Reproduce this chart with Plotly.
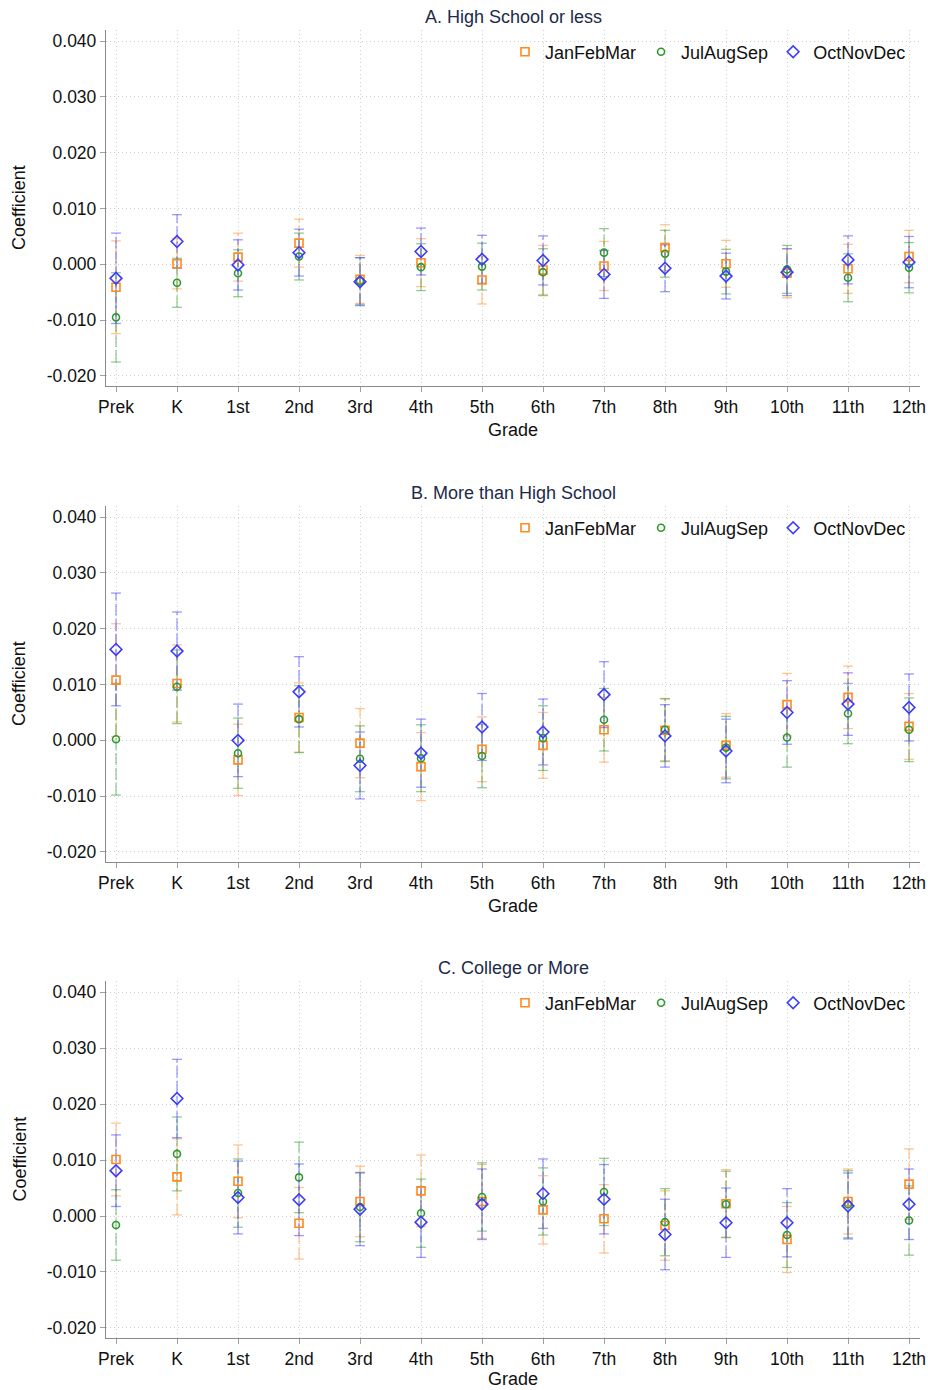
import plotly.graph_objects as go

W, H = 928, 1390

grades = ["Prek", "K", "1st", "2nd", "3rd", "4th", "5th", "6th", "7th", "8th", "9th", "10th", "11th", "12th"]
series_names = ["JanFebMar", "JulAugSep", "OctNovDec"]
panel_titles = ["A. High School or less", "B. More than High School", "C. College or More"]

# Panel A: High School or less
a_jan = [-0.0041, 0.0001, 0.0013, 0.0038, -0.0027, 0.0003, -0.0028, -0.0010, -0.0003, 0.0030, 0.0001, -0.0016, -0.0008, 0.0014]
a_jul = [-0.0095, -0.0033, -0.0016, 0.0014, -0.0030, -0.0005, -0.0004, -0.0014, 0.0021, 0.0019, -0.0013, -0.0009, -0.0024, -0.0006]
a_oct = [-0.0025, 0.0041, -0.0001, 0.0021, -0.0031, 0.0023, 0.0009, 0.0007, -0.0018, -0.0007, -0.0021, -0.0014, 0.0008, 0.0004]
a_jan_ci = [0.0083, 0.0045, 0.0043, 0.0043, 0.0043, 0.0043, 0.0043, 0.0044, 0.0044, 0.0041, 0.0042, 0.0044, 0.0044, 0.0047]
a_jul_ci = [0.0080, 0.0044, 0.0042, 0.0042, 0.0042, 0.0042, 0.0042, 0.0042, 0.0043, 0.0042, 0.0040, 0.0043, 0.0043, 0.0045]
a_oct_ci = [0.0081, 0.0048, 0.0045, 0.0042, 0.0043, 0.0042, 0.0043, 0.0044, 0.0043, 0.0042, 0.0041, 0.0042, 0.0043, 0.0046]

# Panel B: More than High School
b_jan = [0.0108, 0.0102, -0.0035, 0.0041, -0.0005, -0.0047, -0.0016, -0.0009, 0.0019, 0.0018, -0.0009, 0.0064, 0.0077, 0.0025]
b_jul = [0.0002, 0.0096, -0.0023, 0.0038, -0.0033, -0.0032, -0.0028, 0.0004, 0.0037, 0.0019, -0.0013, 0.0005, 0.0048, 0.0019]
b_oct = [0.0163, 0.0160, 0.0000, 0.0087, -0.0045, -0.0023, 0.0024, 0.0015, 0.0082, 0.0008, -0.0019, 0.0050, 0.0065, 0.0059]
b_jan_ci = [0.0101, 0.0069, 0.0064, 0.0062, 0.0062, 0.0061, 0.0058, 0.0059, 0.0058, 0.0056, 0.0057, 0.0056, 0.0056, 0.0059]
b_jul_ci = [0.0100, 0.0066, 0.0063, 0.0060, 0.0059, 0.0060, 0.0057, 0.0058, 0.0056, 0.0056, 0.0056, 0.0053, 0.0054, 0.0057]
b_oct_ci = [0.0101, 0.0070, 0.0065, 0.0063, 0.0060, 0.0061, 0.0060, 0.0059, 0.0059, 0.0056, 0.0057, 0.0057, 0.0056, 0.0060]

# Panel C: College or More
c_jan = [0.0101, 0.0070, 0.0062, -0.0013, 0.0026, 0.0045, 0.0026, 0.0011, -0.0005, -0.0017, 0.0022, -0.0042, 0.0026, 0.0057]
c_jul = [-0.0016, 0.0111, 0.0041, 0.0069, 0.0016, 0.0005, 0.0034, 0.0026, 0.0043, -0.0011, 0.0021, -0.0034, 0.0021, -0.0008]
c_oct = [0.0081, 0.0210, 0.0033, 0.0029, 0.0012, -0.0011, 0.0021, 0.0040, 0.0030, -0.0033, -0.0012, -0.0012, 0.0018, 0.0021]
c_jan_ci = [0.0065, 0.0068, 0.0065, 0.0064, 0.0063, 0.0064, 0.0066, 0.0061, 0.0061, 0.0062, 0.0061, 0.0059, 0.0058, 0.0063]
c_jul_ci = [0.0063, 0.0066, 0.0061, 0.0063, 0.0062, 0.0061, 0.0061, 0.0060, 0.0060, 0.0060, 0.0059, 0.0058, 0.0060, 0.0062]
c_oct_ci = [0.0064, 0.0070, 0.0065, 0.0064, 0.0065, 0.0063, 0.0063, 0.0062, 0.0062, 0.0063, 0.0062, 0.0061, 0.0059, 0.0063]

y_ticks = [-0.02, -0.01, 0.0, 0.01, 0.02, 0.03, 0.04]
y_ticktext = ["-0.020", "-0.010", "0.000", "0.010", "0.020", "0.030", "0.040"]

panels = [
    ([a_jan, a_jul, a_oct], [a_jan_ci, a_jul_ci, a_oct_ci]),
    ([b_jan, b_jul, b_oct], [b_jan_ci, b_jul_ci, b_oct_ci]),
    ([c_jan, c_jul, c_oct], [c_jan_ci, c_jul_ci, c_oct_ci]),
]

marker_cols = ["#ff8a1f", "#2e9a2e", "#3b3bff"]
ci_cols = ["rgba(255,150,60,0.55)", "rgba(60,160,60,0.55)", "rgba(70,70,255,0.55)"]
symbols = ["square-open", "circle-open", "diamond-open"]
sizes = [8, 7, 9]

# pixel layout
x_left, x_right = 106, 920
panel_px = [(30, 386), (506, 862), (981, 1338)]

FONT = "Liberation Sans, Arial, sans-serif"
fig = go.Figure()
xs = list(range(len(grades)))

for p, (vals, cis) in enumerate(panels):
    xa = "x" if p == 0 else f"x{p+1}"
    ya = "y" if p == 0 else f"y{p+1}"
    leg = "legend" if p == 0 else f"legend{p+1}"
    # confidence intervals first
    for s in range(3):
        lx, ly, cx, cy = [], [], [], []
        for i, (v, c) in enumerate(zip(vals[s], cis[s])):
            lx += [xs[i], xs[i], None]
            ly += [v - c, v + c, None]
            cx += [xs[i], xs[i]]
            cy += [v - c, v + c]
        fig.add_trace(go.Scatter(x=lx, y=ly, mode="lines", xaxis=xa, yaxis=ya,
                                 line=dict(color=ci_cols[s], width=1.3, dash="12px,3px"),
                                 showlegend=False, hoverinfo="skip"))
        fig.add_trace(go.Scatter(x=cx, y=cy, mode="markers", xaxis=xa, yaxis=ya,
                                 marker=dict(symbol="line-ew", size=7,
                                             line=dict(color=ci_cols[s], width=1.3)),
                                 showlegend=False, hoverinfo="skip"))
    for s in range(3):
        fig.add_trace(go.Scatter(x=xs, y=vals[s], mode="markers", name=series_names[s],
                                 xaxis=xa, yaxis=ya, legend=leg,
                                 marker=dict(symbol=symbols[s], size=sizes[s], color=marker_cols[s],
                                             line=dict(color=marker_cols[s], width=1.6))))

axis_common = dict(showline=True, linecolor="#8a8a8a", linewidth=1.3,
                   showgrid=True, gridcolor="#cfcfcf", griddash="1px,3px", gridwidth=1,
                   zeroline=False, ticks="outside", ticklen=5, tickcolor="#a0a0a0",
                   tickfont=dict(family=FONT, size=17.5, color="#111111"))

layout = dict(width=W, height=H, margin=dict(l=0, r=0, t=0, b=0, autoexpand=False),
              paper_bgcolor="white", plot_bgcolor="white",
              font=dict(family=FONT, color="#111111"), annotations=[])

for p in range(3):
    top, bot = panel_px[p]
    xk = "xaxis" if p == 0 else f"xaxis{p+1}"
    yk = "yaxis" if p == 0 else f"yaxis{p+1}"
    yid = "y" if p == 0 else f"y{p+1}"
    xid = "x" if p == 0 else f"x{p+1}"
    layout[xk] = dict(axis_common, domain=[x_left / W, x_right / W], anchor=yid,
                      range=[-0.164, 13.18], tickmode="array", tickvals=xs, ticktext=grades)
    layout[yk] = dict(axis_common, domain=[1 - bot / H, 1 - top / H], anchor=xid,
                      range=[-0.0218, 0.042], tickmode="array", tickvals=y_ticks, ticktext=y_ticktext)
    leg = "legend" if p == 0 else f"legend{p+1}"
    layout[leg] = dict(orientation="h", x=911 / W, xanchor="right", y=1 - (top + 22) / H, yanchor="middle",
                       bgcolor="rgba(255,255,255,0)", font=dict(family=FONT, size=18, color="#111111"),
                       itemwidth=30, tracegroupgap=0)
    grade_y = min(bot + 44, H - 11)
    layout["annotations"] += [
        dict(text=panel_titles[p], x=(x_left + x_right) / 2 / W, y=1 - (top - 13) / H, xref="paper", yref="paper",
             showarrow=False, font=dict(family=FONT, size=18, color="#1e2a4a"), xanchor="center", yanchor="middle"),
        dict(text="Grade", x=(x_left + x_right) / 2 / W, y=1 - grade_y / H, xref="paper", yref="paper",
             showarrow=False, font=dict(family=FONT, size=18, color="#111111"), xanchor="center", yanchor="middle"),
        dict(text="Coefficient", x=19 / W, y=1 - ((top + bot) / 2) / H, xref="paper", yref="paper",
             showarrow=False, textangle=-90, font=dict(family=FONT, size=18, color="#111111"),
             xanchor="center", yanchor="middle"),
    ]

fig.update_layout(**layout)
fig.write_html("out.html")
